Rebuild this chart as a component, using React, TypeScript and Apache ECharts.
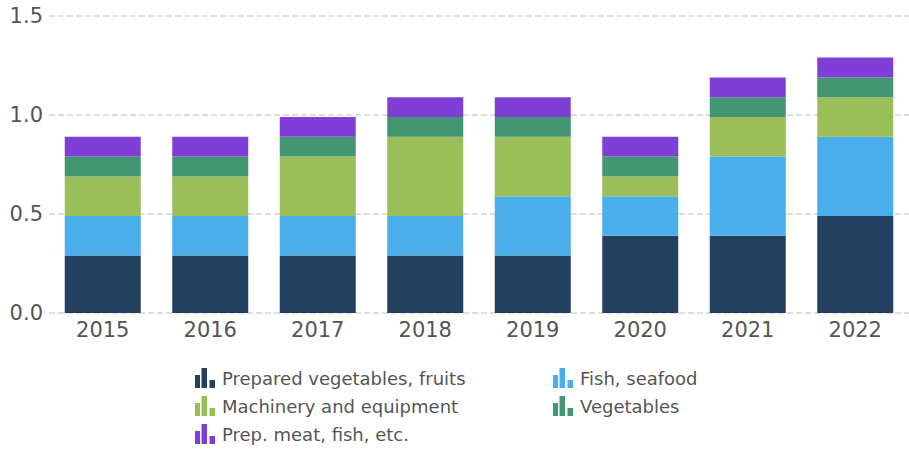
import React, { useEffect, useRef } from "react";
import * as echarts from "echarts";

const categories = ["2015", "2016", "2017", "2018", "2019", "2020", "2021", "2022"];
const preparedVegFruits = [0.29, 0.29, 0.29, 0.29, 0.29, 0.39, 0.39, 0.49];
const fishSeafood = [0.2, 0.2, 0.2, 0.2, 0.3, 0.2, 0.4, 0.4];
const machinery = [0.2, 0.2, 0.3, 0.4, 0.3, 0.1, 0.2, 0.2];
const vegetables = [0.1, 0.1, 0.1, 0.1, 0.1, 0.1, 0.1, 0.1];
const prepMeat = [0.1, 0.1, 0.1, 0.1, 0.1, 0.1, 0.1, 0.1];
const yTicks = [0, 0.5, 1.0, 1.5];

const seriesDefs = [
  { name: "Prepared vegetables, fruits", data: preparedVegFruits, color: "#234060" },
  { name: "Fish, seafood", data: fishSeafood, color: "#4aaeeb" },
  { name: "Machinery and equipment", data: machinery, color: "#9abe58" },
  { name: "Vegetables", data: vegetables, color: "#439672" },
  { name: "Prep. meat, fish, etc.", data: prepMeat, color: "#7f3fd6" },
];

const ICON = "path://M0,7h5v13h-5z M6.5,0h5.5v20h-5.5z M14.5,12h5.5v8h-5.5z";

export default function App() {
  const ref = useRef<HTMLDivElement>(null);
  useEffect(() => {
    if (!ref.current) return;
    const chart = echarts.init(ref.current, undefined, { renderer: "svg" });
    const legendCommon = {
      orient: "vertical",
      itemWidth: 20,
      itemHeight: 20,
      itemGap: 8,
      padding: 0,
      height: 100,
      icon: ICON,
      selectedMode: false,
      itemStyle: { borderWidth: 0 },
      textStyle: { fontFamily: "DejaVu Sans", fontSize: 18, color: "#555", padding: [0, 0, 0, 2] },
    };
    chart.setOption({
      animation: false,
      grid: { left: 49, top: 16, width: 871, height: 297, containLabel: false },
      legend: [
        { ...legendCommon, left: 195, top: 368, data: [seriesDefs[0].name, seriesDefs[2].name, seriesDefs[4].name] },
        { ...legendCommon, left: 553, top: 368, data: [seriesDefs[1].name, seriesDefs[3].name] },
      ],
      xAxis: {
        type: "category",
        data: categories,
        axisLine: { show: false },
        axisTick: { show: false },
        axisLabel: { fontFamily: "DejaVu Sans", fontSize: 21, color: "#555", margin: 6 },
      },
      yAxis: {
        type: "value",
        min: yTicks[0],
        max: yTicks[yTicks.length - 1],
        interval: 0.5,
        axisLine: { show: false },
        axisTick: { show: false },
        axisLabel: {
          fontFamily: "DejaVu Sans",
          fontSize: 21,
          color: "#555",
          margin: 6,
          formatter: (v: number) => v.toFixed(1),
        },
        splitLine: { lineStyle: { color: "#d4d4d4", width: 1.5, type: [6, 3] } },
      },
      series: seriesDefs.map((s) => ({
        name: s.name,
        type: "bar",
        stack: "total",
        data: s.data,
        barWidth: 76,
        itemStyle: { color: s.color },
      })),
    });
    return () => chart.dispose();
  }, []);
  return <div ref={ref} style={{ position: "absolute", left: 0, top: 0, width: 909, height: 451 }} />;
}
